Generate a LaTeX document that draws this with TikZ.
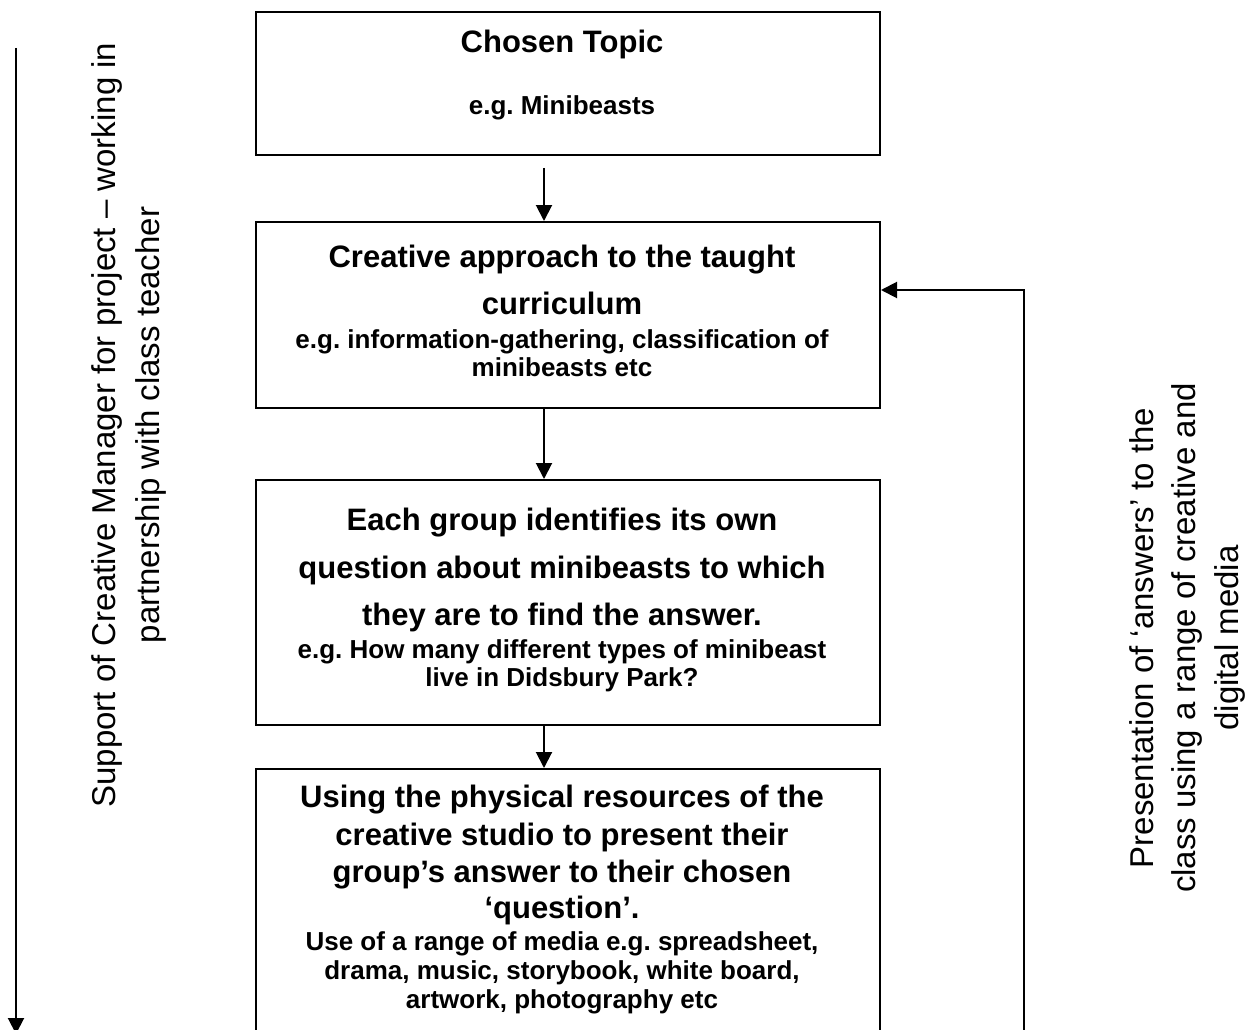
\documentclass[tikz,border=0pt]{standalone}
\usepackage{fontspec}
\setmainfont{Liberation Sans}
\usetikzlibrary{arrows.meta}
\frenchspacing
\begin{document}
\begin{tikzpicture}[x=1pt,y=-1pt,
  boxst/.style={draw, line width=2pt, rectangle, inner sep=0pt, minimum width=624pt},
  big/.style={anchor=base, inner sep=0pt, font=\fontsize{31}{37}\selectfont\bfseries},
  small/.style={anchor=base, inner sep=0pt, font=\fontsize{26}{31}\selectfont\bfseries},
  side/.style={anchor=base, rotate=90, inner sep=0pt, font=\fontsize{33}{40}\selectfont},
  conn/.style={line width=2pt, -{Triangle[length=16pt,width=16pt]}},
]
\useasboundingbox (0,0) rectangle (1245,1030);
\clip (0,0) rectangle (1245,1030);
% boxes
\node[boxst, minimum height=143pt] (b1) at (568,83.5) {};
\node[boxst, minimum height=186pt] (b2) at (568,315) {};
\node[boxst, minimum height=245pt] (b3) at (568,602.5) {};
\node[boxst, minimum height=271pt] (b4) at (568,904.5) {};
% box 1 text
\node[big] (t1a) at (562,53) {Chosen Topic};
\node[small] (t1b) at (562,115) {e.g. Minibeasts};
% box 2 text
\node[big] (t2a) at (562,267) {Creative approach to the taught};
\node[big] (t2b) at (562,314) {curriculum};
\node[small] (t2c) at (562,348) {e.g. information-gathering, classification of};
\node[small] (t2d) at (562,376) {minibeasts etc};
% box 3 text
\node[big] (t3a) at (562,530) {Each group identifies its own};
\node[big] (t3b) at (562,578) {question about minibeasts to which};
\node[big] (t3c) at (562,625) {they are to find the answer.};
\node[small] (t3d) at (562,658) {e.g. How many different types of minibeast};
\node[small] (t3e) at (562,686) {live in Didsbury Park?};
% box 4 text
\node[big] (t4a) at (562,807) {Using the physical resources of the};
\node[big] (t4b) at (562,845) {creative studio to present their};
\node[big] (t4c) at (562,882) {group’s answer to their chosen};
\node[big] (t4d) at (562,918) {‘question’.};
\node[small] (t4e) at (562,950) {Use of a range of media e.g. spreadsheet,};
\node[small] (t4f) at (562,979) {drama, music, storybook, white board,};
\node[small] (t4g) at (562,1008) {artwork, photography etc};
% side texts
\node[side] (l1) at (115,425) {Support of Creative Manager for project – working in};
\node[side] (l2) at (159,425) {partnership with class teacher};
\node[side] (r1) at (1153,638) {Presentation of ‘answers’ to the};
\node[side] (r2) at (1195,638) {class using a range of creative and};
\node[side] (r3) at (1238,638) {digital media};
% connectors
\coordinate (ax) at (544,0);
\coordinate (a1s) at (544,168);
\draw[conn] (a1s) -- (b2.north -| ax);
\draw[conn] (b2.south -| ax) -- (b3.north -| ax);
\draw[conn] (b3.south -| ax) -- (b4.north -| ax);
\coordinate (ls) at (16,48);
\coordinate (le) at (16,1034);
\draw[conn] (ls) -- (le);
\coordinate (rb) at (1024,1034);
\coordinate (rt) at (1024,290);
\draw[conn] (rb) -- (rt) -- (rt -| b2.east);
\end{tikzpicture}
\end{document}
